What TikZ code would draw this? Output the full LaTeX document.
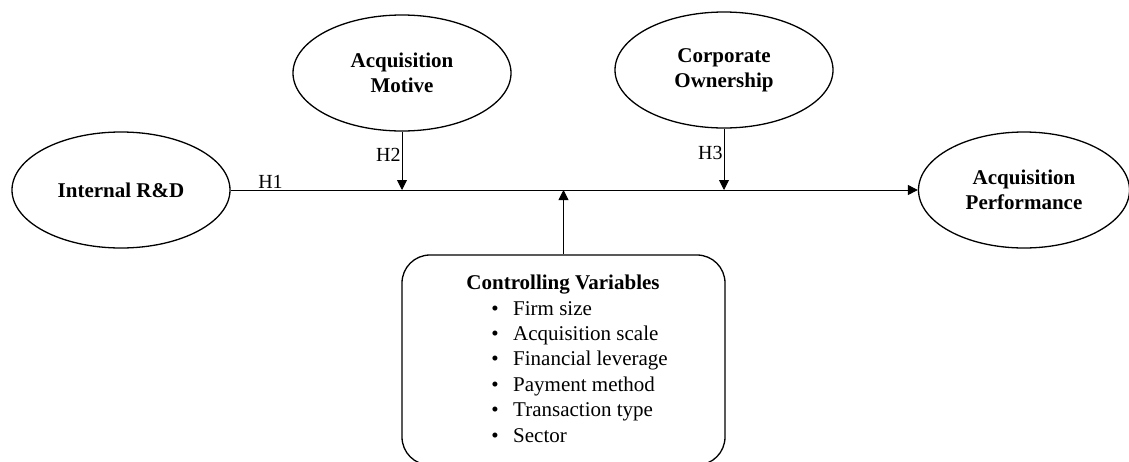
\documentclass[tikz,border=0pt]{standalone}
\usepackage{fontspec}
\setmainfont{Liberation Serif}
\newfontfamily\timesfont{Liberation Serif}
\usetikzlibrary{shapes.geometric, arrows.meta, positioning}
\newcommand{\bigtext}{\timesfont\fontsize{21}{25}\selectfont}
\tikzstyle{construct} = [
  ellipse, draw, line width=1.3pt, inner sep=0pt,
  minimum width=218pt, minimum height=116pt,
  align=center, font=\bigtext\bfseries
]
\tikzstyle{ctrlbox} = [
  rectangle, draw, line width=1.3pt, rounded corners=28pt, inner sep=0pt,
  minimum width=323pt, minimum height=210pt
]
\tikzstyle{arrow} = [-{Triangle[length=10pt, width=10pt]}, line width=0.9pt]
\tikzstyle{hyp} = [font=\timesfont\fontsize{20}{24}\selectfont, inner sep=1pt]
\begin{document}
\begin{tikzpicture}[x=1pt, y=-1pt]
  \useasboundingbox (0,0) rectangle (1129,461);

  % Constructs
  \node[construct] (rd) at (121, 190) {Internal R\&D};
  \node[construct] (motive) at (402, 73) {Acquisition\\Motive};
  \node[construct] (owner) at (724, 70) {Corporate\\Ownership};
  \node[construct, minimum width=211pt] (perf) at (1024, 190) {Acquisition\\Performance};

  % Controlling variables
  \node[ctrlbox] (ctrl) at (563.5, 360) {};
  \node[font=\bigtext\bfseries, anchor=base] (ctrltitle) at (563, 289) {Controlling Variables};
  \foreach \var [count=\i] in {Firm size, Acquisition scale, Financial leverage,
                               Payment method, Transaction type, Sector} {
    \node[font=\bigtext, anchor=base west, inner sep=0pt] (var\i) at (513, {315+25.4*(\i-1)}) {\var};
    \node[font=\bigtext, anchor=base, inner sep=0pt] (dot\i) at (495, {315+25.4*(\i-1)}) {\textbullet};
  }

  % Paths
  \coordinate (h2) at (motive.south |- rd.east);
  \coordinate (h3) at (owner.south |- rd.east);
  \coordinate (cv) at (ctrl.north |- rd.east);

  \draw[arrow] (rd) -- node[hyp, pos=0.058, anchor=south] {H1} (perf);
  \draw[arrow] (motive) -- node[hyp, pos=0.4, anchor=east] {H2} (h2);
  \draw[arrow] (owner) -- node[hyp, pos=0.4, anchor=east] {H3} (h3);
  \draw[arrow] (ctrl) -- (cv);

\end{tikzpicture}
\end{document}
